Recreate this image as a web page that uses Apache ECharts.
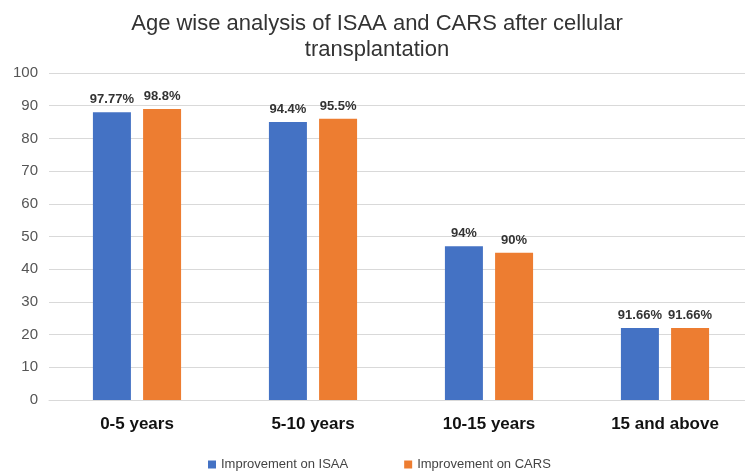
<!DOCTYPE html>
<html>
<head>
<meta charset="utf-8">
<script src="https://cdn.jsdelivr.net/npm/echarts@6/dist/echarts.min.js"></script>
<style>
  html, body { margin: 0; padding: 0; background: #fff; overflow: hidden; }
  #chart { width: 753px; height: 471px; }
</style>
</head>
<body>
<div id="chart"></div>
<script>
const categories = ['0-5 years', '5-10 years', '10-15 years', '15 and above']
const isaaValues = [88, 85, 47, 22]
const carsValues = [89, 86, 45, 22]
const isaaLabels = ['97.77%', '94.4%', '94%', '91.66%']
const carsLabels = ['98.8%', '95.5%', '90%', '91.66%']
const seriesNames = ['Improvement on ISAA', 'Improvement on CARS']

// the plot runs a little past the right edge of the picture, so the canvas is wider than the window
const chart = echarts.init(document.getElementById('chart'))

function barLabel(texts) {
  return {
    show: true,
    position: 'top',
    distance: 6,
    formatter: (p) => texts[p.dataIndex],
    color: '#333',
    fontSize: 13,
    fontWeight: 'bold',
    fontFamily: 'Liberation Sans'
  }
}

const option = {
  animation: false,
  backgroundColor: '#fff',
  title: {
    text: 'Age wise analysis of ISAA and CARS after cellular\ntransplantation',
    left: 372,
    textAlign: 'center',
    top: 6,
    textStyle: {
      color: '#333',
      fontSize: 22,
      fontWeight: 'normal',
      fontFamily: 'Liberation Sans',
      lineHeight: 26
    }
  },
  legend: {
    top: 453,
    left: 203,
    itemWidth: 8,
    itemHeight: 8,
    itemGap: 56,
    icon: 'rect',
    textStyle: { color: '#444', fontSize: 13, fontFamily: 'Liberation Sans' },
    data: seriesNames
  },
  grid: { left: 49, right: 0, top: 73, bottom: 71 },
  xAxis: {
    type: 'category',
    data: categories,
    axisLine: { lineStyle: { color: '#d9d9d9' } },
    axisTick: { show: false },
    axisLabel: {
      color: '#111',
      fontSize: 17,
      fontWeight: 'bold',
      fontFamily: 'Liberation Sans',
      margin: 16
    }
  },
  yAxis: {
    type: 'value',
    min: 0,
    max: 100,
    interval: 10,
    axisLine: { show: false },
    axisTick: { show: false },
    axisLabel: { color: '#555', fontSize: 15, fontFamily: 'Liberation Sans', margin: 11 },
    splitLine: { lineStyle: { color: '#d9d9d9', width: 1 } }
  },
  series: [
    {
      name: seriesNames[0],
      type: 'bar',
      data: isaaValues,
      barWidth: 38,
      barGap: '32%',
      itemStyle: { color: '#4472C4' },
      label: barLabel(isaaLabels)
    },
    {
      name: seriesNames[1],
      type: 'bar',
      data: carsValues,
      barWidth: 38,
      itemStyle: { color: '#ED7D31' },
      label: barLabel(carsLabels)
    }
  ]
}

chart.setOption(option)
</script>
</body>
</html>
